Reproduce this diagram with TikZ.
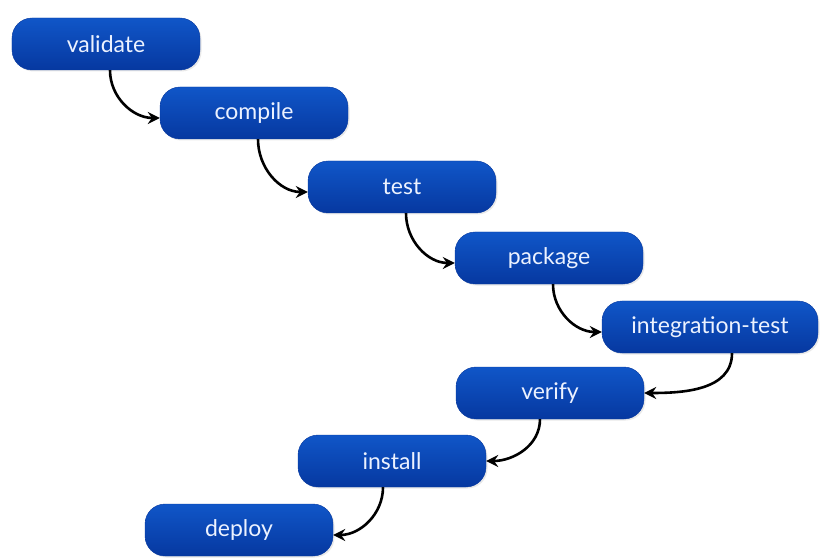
\documentclass[tikz,border=0pt]{standalone}
\usepackage{fontspec}
\setmainfont{Lato}
\usetikzlibrary{arrows.meta,shadows}

\begin{document}
\begin{tikzpicture}[x=1bp,y=-1bp]
\tikzstyle{phase} = [rounded corners=20bp, minimum width=188bp, minimum height=52bp,
    top color={rgb,255:red,16;green,86;blue,200}, bottom color={rgb,255:red,6;green,56;blue,160},
    draw={rgb,255:red,8;green,58;blue,160}, text={rgb,255:red,236;green,242;blue,255},
    font=\fontsize{23bp}{27bp}\selectfont, inner sep=0pt,
    drop shadow={opacity=0.18, shadow xshift=1.5bp, shadow yshift=-1.5bp}]
\tikzstyle{step arrow} = [-{Stealth[length=12bp,width=12bp,inset=4bp]}, line width=2.6bp, black]
\useasboundingbox (0,0) rectangle (820,559);
\node[phase] (val) at (106,44) {validate};
\node[phase] (comp) at (254,113) {compile};
\node[phase] (tst) at (402,187) {test};
\node[phase] (pkg) at (549,258) {package};
\node[phase, minimum width=216bp] (itest) at (710,327) {integration-test};
\node[phase] (ver) at (550,393) {verify};
\node[phase] (inst) at (392,461) {install};
\node[phase] (dep) at (239,530) {deploy};
% going down on the left
\draw[step arrow] (val.south) ++(4,0) to[out=-90,in=180] ([yshift=-5]comp.west);
\draw[step arrow] (comp.south) ++(4,0) to[out=-90,in=180] ([yshift=-5]tst.west);
\draw[step arrow] (tst.south) ++(4,0) to[out=-90,in=180] ([yshift=-5]pkg.west);
\draw[step arrow] (pkg.south) ++(4,0) to[out=-90,in=180] ([yshift=-5]itest.west);
% coming back on the right
\draw[step arrow] (itest.south) ++(22,0) to[out=-90,in=0] (ver.east);
\draw[step arrow] (ver.south) ++(-10,0) to[out=-90,in=0] (inst.east);
\draw[step arrow] (inst.south) ++(-9,0) to[out=-90,in=0] ([yshift=-5]dep.east);
\end{tikzpicture}
\end{document}
